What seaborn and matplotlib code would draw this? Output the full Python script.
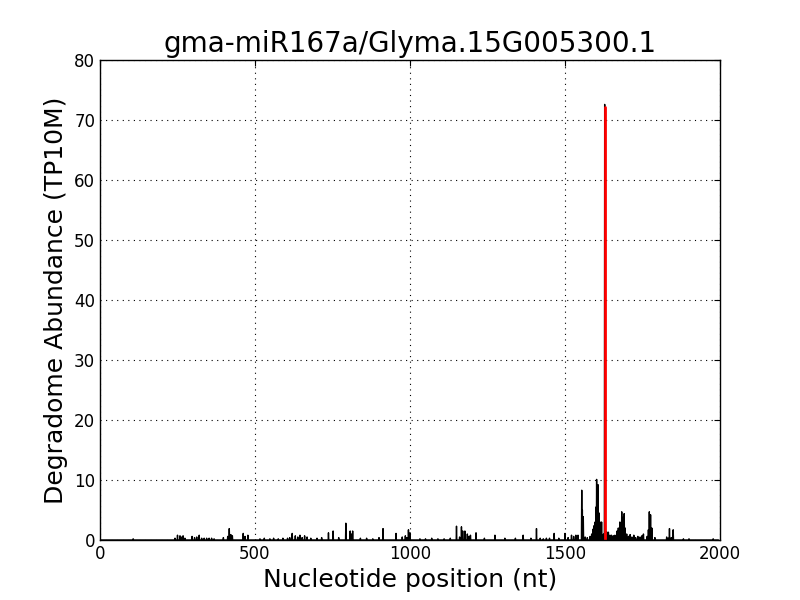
import numpy as np
import pandas as pd
import seaborn as sns
import matplotlib
matplotlib.use("Agg")
import matplotlib.pyplot as plt

# degradome read abundance per nucleotide position (non-zero positions only)
positions = [107, 242, 250, 258, 262, 268, 274, 297, 305, 312, 320, 328, 336, 344, 352,
             360, 368, 398, 412, 417, 422, 427, 462, 468, 477, 516, 530, 548, 560, 575,
             590, 605, 612, 620, 630, 638, 645, 652, 660, 668, 680, 700, 715, 737, 752,
             770, 793, 807, 811, 815, 840, 860, 880, 900, 913, 955, 975, 985, 990, 995,
             1000, 1032, 1050, 1070, 1090, 1110, 1130, 1150, 1160, 1166, 1170, 1177, 1185,
             1190, 1195, 1213, 1240, 1274, 1306, 1340, 1365, 1390, 1408, 1420, 1430, 1440,
             1450, 1465, 1480, 1500, 1510, 1521, 1528, 1535, 1542, 1554, 1556, 1559, 1565,
             1572, 1581, 1586, 1590, 1594, 1597, 1600, 1602, 1605, 1607, 1610, 1613, 1618,
             1624, 1628, 1634, 1640, 1645, 1650, 1656, 1661, 1668, 1672, 1677, 1680, 1683,
             1686, 1688, 1691, 1694, 1699, 1705, 1710, 1716, 1722, 1728, 1735, 1742, 1748,
             1753, 1765, 1769, 1772, 1776, 1780, 1790, 1828, 1834, 1837, 1843, 1849, 1882,
             1900, 1978]
abundance = [0.2, 0.3, 0.8, 0.7, 0.5, 0.7, 0.3, 0.6, 0.4, 0.5, 0.8, 0.3, 0.3, 0.3, 0.3,
             0.3, 0.2, 0.4, 0.6, 1.9, 0.9, 0.7, 1.1, 0.6, 0.8, 0.2, 0.3, 0.2, 0.3, 0.2,
             0.3, 0.3, 0.4, 1.1, 0.7, 0.5, 0.8, 0.4, 0.7, 0.5, 0.3, 0.3, 0.4, 1.2, 1.5,
             0.4, 2.8, 1.5, 1.0, 1.5, 0.3, 0.3, 0.2, 0.4, 1.9, 1.1, 0.5, 0.7, 0.4, 1.7,
             1.2, 0.2, 0.2, 0.3, 0.2, 0.2, 0.3, 2.3, 0.5, 2.2, 1.5, 1.5, 1.0, 0.6, 0.8,
             1.2, 0.3, 0.8, 0.3, 0.3, 0.8, 0.3, 1.9, 0.3, 0.2, 0.3, 0.3, 1.1, 0.3, 1.1,
             0.4, 0.8, 0.6, 0.8, 0.8, 8.3, 5.0, 3.9, 0.5, 0.4, 0.6, 1.0, 1.8, 2.4, 3.0,
             5.5, 10.1, 7.0, 9.2, 4.5, 3.0, 3.0, 1.0, 72.6, 1.4, 1.3, 0.8, 0.8, 0.7,
             0.8, 1.5, 2.0, 3.0, 2.2, 4.7, 3.0, 3.8, 4.4, 2.0, 1.0, 0.6, 0.9, 0.5, 0.8,
             0.4, 0.6, 0.5, 0.7, 1.0, 0.6, 1.7, 4.7, 4.2, 2.0, 0.4, 0.5, 0.3, 1.9, 0.4,
             1.7, 0.2, 0.2, 0.2]

# predicted cleavage site
site_pos = 1628
site_abund = 72.2

seq_len = 1995
df = pd.DataFrame({"pos": np.arange(1, seq_len + 1), "abund": 0.0})
df.loc[df["pos"].isin(positions), "abund"] = pd.Series(abundance, index=positions).reindex(
    df.loc[df["pos"].isin(positions), "pos"]).values

site = pd.DataFrame({"pos": [site_pos, site_pos], "abund": [0, site_abund]})

sns.set_style("white")
plt.rcParams["font.family"] = ["DejaVu Sans"]
plt.rcParams["text.color"] = "black"
plt.rcParams["axes.labelcolor"] = "black"
fig = plt.figure(figsize=(8, 6), dpi=100)
ax = fig.add_axes([0.125, 0.1, 0.775, 0.8])

sns.lineplot(data=df, x="pos", y="abund", color="black", linewidth=1, ax=ax,
             estimator=None, sort=False)
sns.lineplot(data=site, x="pos", y="abund", color="red", linewidth=2, ax=ax,
             estimator=None, sort=False)

ax.set_xlim(0, 2000)
ax.set_ylim(0, 80)
ax.set_xticks([0, 500, 1000, 1500, 2000])
ax.set_yticks(range(0, 81, 10))
ax.grid(True, color="black", linestyle=(0, (1, 4)), linewidth=0.8)
for s in ax.spines.values():
    s.set_color("black")
    s.set_linewidth(1)
ax.tick_params(direction="in", length=4, width=0.8, top=True, right=True,
               labelsize=12, colors="black")

ax.set_title("gma-miR167a/Glyma.15G005300.1", fontsize=20, color="black")
ax.set_xlabel("Nucleotide position (nt)", fontsize=18)
ax.set_ylabel("Degradome Abundance (TP10M)", fontsize=18)

fig.savefig("out.png", dpi=100)
